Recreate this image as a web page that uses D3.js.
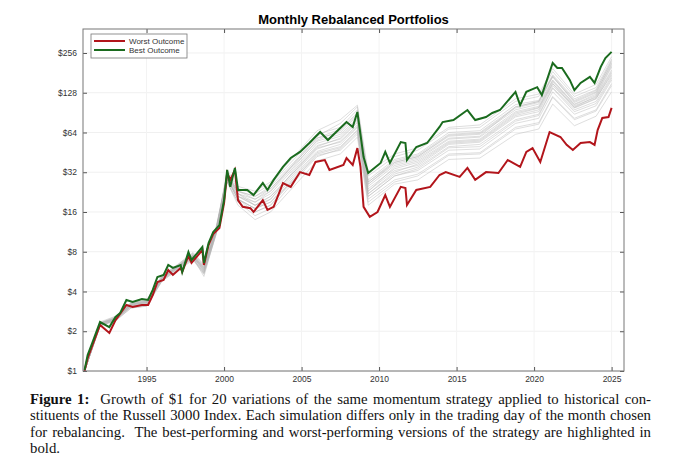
<!DOCTYPE html>
<html>
<head>
<meta charset="utf-8">
<script src="https://cdn.jsdelivr.net/npm/d3@7"></script>
<style>
  body { margin: 0; background: #fff; }
  #caption { position: absolute; left: 30px; top: 391px; width: 621px;
    font-family: "Liberation Serif", "DejaVu Serif", serif; font-size: 14.8px; line-height: 16.4px;
    color: #111; }
  #caption div { text-align: justify; text-align-last: justify; white-space: nowrap; }
  #caption div.last { text-align-last: left; }
</style>
</head>
<body>
<svg id="chart" width="680" height="390" style="position:absolute;left:0;top:0"></svg>
<div id="caption">
  <div><b>Figure 1:</b>&nbsp; Growth of $1 for 20 variations of the same momentum strategy applied to historical con-</div>
  <div>stituents of the Russell 3000 Index. Each simulation differs only in the trading day of the month chosen</div>
  <div>for rebalancing.&nbsp; The best-performing and worst-performing versions of the strategy are highlighted in</div>
  <div class="last">bold.</div>
</div>
<script>
const bestYears = [1991.0,1991.2,1991.5,1992.0,1992.6,1993.0,1993.3,1993.7,1994.1,1994.7,1995.1,1995.4,1995.7,1996.1,1996.4,1996.7,1997.2,1997.3,1997.7,1997.9,1998.6,1998.7,1999.0,1999.3,1999.7,2000.0,2000.2,2000.4,2000.7,2000.9,2001.5,2001.9,2002.5,2002.8,2003.2,2003.8,2004.3,2004.9,2005.5,2006.2,2006.7,2007.5,2007.9,2008.3,2008.6,2009.0,2009.3,2010.1,2010.4,2010.7,2011.4,2011.7,2011.8,2012.4,2013.1,2013.9,2014.1,2014.8,2015.7,2016.2,2016.9,2017.3,2017.8,2018.8,2019.1,2019.5,2020.2,2020.5,2021.2,2021.5,2021.8,2022.3,2022.6,2023.0,2023.6,2023.9,2024.3,2024.6,2025.0]
const bestValues = [1.02,1.32,1.63,2.35,2.15,2.57,2.75,3.45,3.33,3.51,3.45,4.11,5.15,5.34,6.35,6.03,6.35,5.62,7.97,6.93,8.69,6.58,9.31,11.3,12.7,19.7,33.3,24.8,34.5,23.5,23.5,21.5,26.5,23.5,28.0,35.1,41.0,45.6,53.3,64.5,56.1,69.2,76.8,70.5,91.5,41.7,31.6,37.6,45.6,37.6,54.2,53.3,39.6,49.7,53.3,70.5,76.8,79.5,94.7,79.5,83.8,90.0,94.7,130,103,130,141,123,215,197,197,160,134,152,169,152,201,234,261]

const worstYears = [1991.0,1991.2,1992.0,1992.6,1993.0,1993.7,1994.1,1994.7,1995.1,1995.4,1995.7,1996.1,1996.4,1996.7,1997.2,1997.3,1997.7,1997.9,1998.6,1998.7,1999.0,1999.3,1999.7,2000.0,2000.2,2000.4,2000.7,2000.9,2001.2,2001.7,2001.9,2002.5,2002.8,2003.2,2003.8,2004.3,2004.9,2005.5,2005.9,2006.5,2006.8,2007.7,2007.9,2008.3,2008.6,2008.8,2009.0,2009.4,2009.9,2010.4,2010.7,2011.4,2011.7,2011.8,2012.4,2013.3,2013.9,2014.3,2015.2,2015.7,2016.2,2016.9,2017.7,2018.3,2019.1,2019.5,2019.9,2020.4,2021.0,2021.7,2022.1,2022.5,2023.0,2023.6,2023.9,2024.1,2024.4,2024.8,2025.0]
const worstValues = [1.0,1.25,2.23,1.94,2.43,3.16,3.05,3.16,3.16,3.76,4.72,4.89,5.82,5.34,6.03,5.62,7.43,6.58,8.24,6.35,9.0,10.9,12.1,18.7,31.6,28.0,33.3,19.7,17.5,17.1,16.0,19.7,16.6,17.5,26.5,24.8,32.1,30.5,38.3,39.6,33.3,36.3,41.0,36.3,48.8,35.1,17.5,14.7,16.0,21.5,17.5,24.8,24.3,18.1,23.5,24.8,30.5,32.1,29.5,34.5,28.0,32.1,31.6,39.6,35.1,45.6,48.8,38.3,64.5,59.2,51.6,47.2,53.3,54.2,51.6,66.8,82.4,83.8,98.3]

// other 18 variations, read coarsely on a shared date grid
const grayYears = [1991,1992,1993,1994,1995,1996,1997,1998,1998.7,1999.5,2000.2,2000.9,2002,2003,2004.5,2006,2007.5,2008.6,2009.3,2011,2012.5,2014.5,2016.5,2018.8,2020.3,2021.2,2022.6,2024,2025]
const grayValues = [
  [1,2.3,2.5,3.2,3.3,5.1,6.1,7.5,5.8,11.8,30,22,20,24,36,55,62,82,26,38,42,60,62,95,105,160,105,125,205],
  [1,2.25,2.45,3.1,3.25,5.0,6.2,7.4,6.0,11.5,28,21,18,21,32,50,58,78,24,34,38,54,56,88,98,150,100,120,190],
  [1,2.2,2.4,3.0,3.1,4.8,5.9,7.0,5.5,11.0,32,24,22,26,40,62,70,95,30,42,47,68,70,110,120,185,120,140,230],
  [1,2.3,2.55,3.25,3.4,5.2,6.3,7.7,6.2,12.0,29,20,17,19,30,46,52,70,22,31,35,50,52,80,88,140,95,110,170],
  [1,2.35,2.6,3.3,3.45,5.3,6.4,7.9,6.4,12.5,31,23,21,25,38,60,75,100,28,40,44,64,66,104,112,175,115,135,220],
  [1,2.2,2.45,3.1,3.2,4.9,6.0,7.2,5.2,11.2,27,19,15,17,27,42,48,64,20,28,31,44,45,70,76,120,82,95,150],
  [1,2.25,2.5,3.15,3.3,5.0,6.1,7.3,5.9,11.6,30,21,19,22,34,53,60,80,25,36,40,57,59,92,101,158,104,122,200],
  [1,2.3,2.5,3.2,3.35,5.1,6.2,7.5,6.1,11.9,29,20,16,18,29,45,50,67,21,30,33,47,48,75,82,130,88,102,160],
  [1,2.28,2.52,3.22,3.38,5.15,6.25,7.6,6.0,12.1,31,22,19,23,35,56,66,88,27,38,42,61,63,98,108,168,110,130,210],
  [1,2.22,2.42,3.05,3.15,4.85,5.95,7.1,5.6,11.3,28,20,17,20,31,48,55,73,23,33,36,52,54,84,92,145,98,115,180],
  [1,2.32,2.58,3.28,3.42,5.25,6.35,7.8,6.3,12.3,30,23,20,23,37,58,68,90,26,37,41,58,60,100,110,170,108,128,215],
  [1,2.2,2.4,3.0,3.1,4.8,5.8,6.9,5.4,10.9,27,18,14,16,25,39,44,59,18,26,28,40,41,62,68,105,72,85,130],
  [1,2.27,2.48,3.18,3.3,5.05,6.15,7.4,5.7,11.7,33,25,23,27,42,66,80,103,32,44,49,70,73,115,125,195,125,148,240],
  [1,2.24,2.46,3.12,3.22,4.95,6.05,7.25,5.8,11.4,29,21,18,20,33,51,57,76,23,35,39,55,57,90,99,155,102,118,185],
  [1,2.31,2.53,3.24,3.36,5.12,6.22,7.55,6.15,12.0,30,22,18,21,32,49,54,71,22,32,37,53,55,86,95,150,99,116,175],
  [1,2.26,2.47,3.16,3.28,5.02,6.12,7.35,5.65,11.5,28,20,17,19,28,44,49,66,21,30,34,49,50,78,86,138,92,106,165],
  [1,2.29,2.51,3.2,3.33,5.08,6.18,7.45,5.95,11.8,31,23,21,24,37,58,64,86,27,39,43,62,64,100,110,172,112,133,225],
  [1,2.21,2.44,3.08,3.18,4.9,6.0,7.15,5.5,11.2,27,19,16,18,28,43,47,62,19,27,30,43,44,68,74,118,80,93,145]
]

const yTicks = [1,2,4,8,16,32,64,128,256]
const xTicks = [1995,2000,2005,2010,2015,2020,2025]

const margin = {top: 29, right: 56, bottom: 19, left: 83}
const svg = d3.select("#chart")
const W = 680, H = 390
const x = d3.scaleLinear().domain([1990.9, 2025.8]).range([margin.left, W - margin.right])
const y = d3.scaleLog().base(2).domain([1, 389]).range([H - margin.bottom, margin.top])

// grid
svg.append("g").selectAll("line").data(yTicks).join("line")
  .attr("x1", margin.left).attr("x2", W - margin.right)
  .attr("y1", d => y(d)).attr("y2", d => y(d))
  .attr("stroke", "#f0f0f0")
svg.append("g").selectAll("line").data(xTicks).join("line")
  .attr("y1", margin.top).attr("y2", H - margin.bottom)
  .attr("x1", d => x(d)).attr("x2", d => x(d))
  .attr("stroke", "#f3f3f3")

const line = d3.line().x(d => x(d[0])).y(d => y(d[1]))

svg.append("g").selectAll("path").data(grayValues).join("path")
  .attr("d", vals => line(grayYears.map((t, i) => [t, vals[i]])))
  .attr("fill", "none").attr("stroke", "#b4b4b4").attr("stroke-opacity", 0.55).attr("stroke-width", 0.8)

svg.append("path").attr("d", line(worstYears.map((t, i) => [t, worstValues[i]])))
  .attr("fill", "none").attr("stroke", "#b2151b").attr("stroke-width", 2)
svg.append("path").attr("d", line(bestYears.map((t, i) => [t, bestValues[i]])))
  .attr("fill", "none").attr("stroke", "#1a6b1e").attr("stroke-width", 2)

// axes
const fontAx = "Liberation Sans, Arial, sans-serif"
const yAxis = svg.append("g").attr("transform", `translate(${margin.left},0)`)
  .call(d3.axisLeft(y).tickValues(yTicks).tickFormat(d => "$" + d).tickSize(-4).tickPadding(6))
const yAxisR = svg.append("g").attr("transform", `translate(${W - margin.right},0)`)
  .call(d3.axisRight(y).tickValues(yTicks).tickFormat("").tickSize(-4))
const xAxis = svg.append("g").attr("transform", `translate(0,${H - margin.bottom})`)
  .call(d3.axisBottom(x).tickValues(xTicks).tickFormat(d3.format("d")).tickSize(-4).tickPadding(5))
const xAxisT = svg.append("g").attr("transform", `translate(0,${margin.top})`)
  .call(d3.axisTop(x).tickValues(xTicks).tickFormat("").tickSize(-4))
for (const a of [yAxis, yAxisR, xAxis, xAxisT]) {
  a.select(".domain").remove()
  a.selectAll("line").attr("stroke", "#555")
  a.selectAll("text").attr("font-family", fontAx).attr("font-size", 8.5).attr("fill", "#333")
}
svg.append("rect").attr("x", margin.left).attr("y", margin.top)
  .attr("width", W - margin.left - margin.right).attr("height", H - margin.top - margin.bottom)
  .attr("fill", "none").attr("stroke", "#777").attr("stroke-width", 1)

svg.append("text").attr("x", (margin.left + W - margin.right) / 2).attr("y", 24)
  .attr("text-anchor", "middle").attr("font-family", fontAx).attr("font-weight", "bold")
  .attr("font-size", 13).text("Monthly Rebalanced Portfolios")

// legend
const lg = svg.append("g").attr("transform", `translate(${margin.left + 8},${margin.top + 5})`)
lg.append("rect").attr("width", 96).attr("height", 24).attr("fill", "#fff").attr("stroke", "#777").attr("stroke-width", 0.8)
const items = [["Worst Outcome", "#b2151b"], ["Best Outcome", "#1a6b1e"]]
items.forEach(([name, c], i) => {
  lg.append("line").attr("x1", 3).attr("x2", 34).attr("y1", 7 + i * 9).attr("y2", 7 + i * 9)
    .attr("stroke", c).attr("stroke-width", 2)
  lg.append("text").attr("x", 38).attr("y", 10 + i * 9).attr("font-family", fontAx)
    .attr("font-size", 8).attr("fill", "#333").text(name)
})
</script>
</body>
</html>
